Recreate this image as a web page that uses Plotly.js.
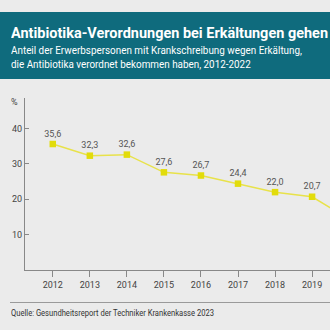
<!DOCTYPE html>
<html>
<head>
<meta charset="utf-8">
<script src="https://cdn.plot.ly/plotly-3.0.1.min.js"></script>
<style>
  html, body { margin:0; padding:0; width:330px; height:330px; overflow:hidden; background:#ebebeb; }
  #wrap { position:relative; width:460px; height:330px; font-family:Roboto, "Noto Sans", sans-serif; }
  #chart { position:absolute; left:0; top:0; width:460px; height:330px; }
  #header { position:absolute; left:0; top:12px; width:460px; height:67px; background:#0f6b7d; z-index:2; }
  #title { position:absolute; left:11px; top:13.9px; font-size:14px; line-height:14px; font-weight:700; color:#ffffff; white-space:nowrap; transform-origin:left top; }
  #subtitle { position:absolute; left:11px; top:32.4px; font-size:10px; line-height:13.3px; color:#ffffff; white-space:nowrap; transform-origin:left top; }
  #pct { position:absolute; left:11px; top:97px; font-size:9px; line-height:10px; color:#444; z-index:2; }
  #rule { position:absolute; left:10px; top:302px; width:450px; height:1px; background:#9a9a9a; z-index:2; }
  #source { position:absolute; left:11px; top:308.9px; font-size:8.5px; line-height:8.5px; color:#333; white-space:nowrap; z-index:2; transform-origin:left top; }
</style>
</head>
<body>
<div id="wrap">
  <div id="chart"></div>
  <div id="header">
    <div id="title"><span id="titleA">Antibiotika-Verordnungen bei Erkältungen gehen</span> zurück</div>
    <div id="subtitle"><span id="subA">Anteil der Erwerbspersonen mit Krankschreibung wegen Erkältung,</span><br>die Antibiotika verordnet bekommen haben, 2012-2022</div>
  </div>
  <div id="pct">%</div>
  <div id="rule"></div>
  <div id="source"><span id="srcA">Quelle: Gesundheitsreport der Techniker Krankenkasse 2023</span></div>
</div>
<script>
// Data (2020-2022 lie outside the visible area and are estimates)
var years = [2012, 2013, 2014, 2015, 2016, 2017, 2018, 2019, 2020, 2021, 2022];
var shares = [35.6, 32.3, 32.6, 27.6, 26.7, 24.4, 22.0, 20.7, 14.4, 12.1, 13.0];
var yTicks = [10, 20, 30, 40];

var labels = shares.map(function(v){ return v.toFixed(1).replace('.', ','); });

// match header/footer text widths to the reference typeface
function fit(boxId, spanId, target) {
  var w = document.getElementById(spanId).getBoundingClientRect().width;
  if (w > 0) document.getElementById(boxId).style.transform = 'scaleX(' + (target / w) + ')';
}
fit('title', 'titleA', 317);
fit('subtitle', 'subA', 291);
fit('source', 'srcA', 203);

var trace = {
  x: years,
  y: shares,
  type: 'scatter',
  mode: 'lines+markers+text',
  text: labels,
  textposition: 'top center',
  textfont: { family: 'Roboto, sans-serif', size: 9, color: '#555555' },
  line: { color: '#e8e24a', width: 1.5 },
  marker: { symbol: 'square', size: 6.5, color: '#e2dc0a' },
  cliponaxis: true,
  hoverinfo: 'skip'
};

var layout = {
  width: 460,
  height: 330,
  margin: { l: 25, r: 9, t: 98, b: 60 },
  paper_bgcolor: '#ebebeb',
  plot_bgcolor: '#ebebeb',
  showlegend: false,
  font: { family: 'Roboto, sans-serif', size: 9, color: '#444444' },
  xaxis: {
    range: [2011.25, 2022.75],
    tickmode: 'array',
    tickvals: years,
    ticktext: years.map(String),
    ticks: 'outside',
    ticklen: 6,
    tickcolor: '#888888',
    showline: true,
    linecolor: '#888888',
    linewidth: 1,
    showgrid: false,
    zeroline: false,
    tickfont: { size: 9, color: '#444444' },
    fixedrange: true
  },
  yaxis: {
    range: [0, 48.6],
    tickmode: 'array',
    tickvals: yTicks,
    ticktext: yTicks.map(String),
    ticks: 'inside',
    ticklen: 4,
    tickcolor: '#888888',
    showline: true,
    linecolor: '#888888',
    linewidth: 1,
    showgrid: false,
    zeroline: false,
    tickfont: { size: 9, color: '#444444' },
    fixedrange: true
  }
};

Plotly.newPlot('chart', [trace], layout, { staticPlot: true, displayModeBar: false });
</script>
</body>
</html>
